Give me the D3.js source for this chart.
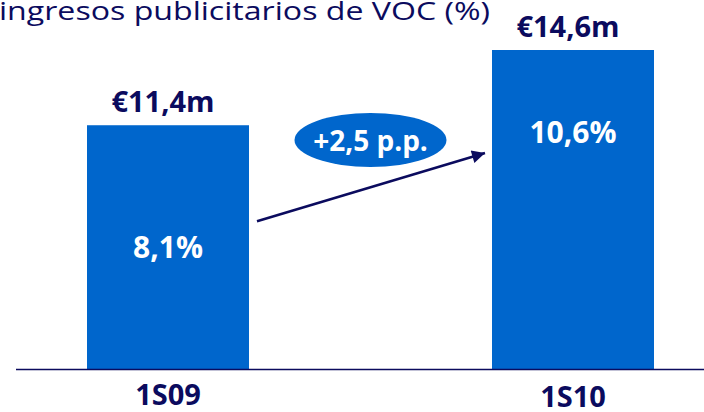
<html>
<head>
<meta charset="utf-8">
<script src="https://d3js.org/d3.v7.min.js"></script>
<style>
    body { margin: 0; background: #fff; }
    text { font-family: "Open Sans", "Noto Sans", sans-serif; }
</style>
</head>
<body>
<div id="chart"></div>
<script>
    // data
    var categories = ["1S09", "1S10"];
    var shareValues = [8.1, 10.6];
    var shareLabels = ["8,1%", "10,6%"];
    var revenueLabels = ["€11,4m", "€14,6m"];
    var changeLabel = "+2,5 p.p.";
    var titleText = "ingresos publicitarios de VOC (%)";

    var width = 704;
    var height = 412;
    var blue = "#0066cc";
    var navy = "#0b0b5e";

    var svg = d3.select("#chart").append("svg")
        .attr("width", width)
        .attr("height", height);

    var xs = d3.scaleBand()
        .domain(categories)
        .range([87, 654])
        .paddingInner(0.6)
        .paddingOuter(0);

    var ys = d3.scaleLinear()
        .domain([0, d3.max(shareValues)])
        .range([369, 50]);

    // title (cut off at the top-left like the original)
    svg.append("text")
        .attr("x", -1)
        .attr("y", 20)
        .attr("fill", navy)
        .style("font-size", "26px")
        .attr("textLength", 491)
        .attr("lengthAdjust", "spacingAndGlyphs")
        .text(titleText);

    // bars
    svg.selectAll("rect.bar")
        .data(shareValues)
        .enter().append("rect")
        .attr("class", "bar")
        .attr("x", function (d, i) { return xs(categories[i]); })
        .attr("y", function (d) { return ys(d); })
        .attr("width", xs.bandwidth())
        .attr("height", function (d) { return ys(0) - ys(d); })
        .attr("fill", blue);

    // baseline
    svg.append("line")
        .attr("x1", 16)
        .attr("x2", width)
        .attr("y1", ys(0) + 0.5)
        .attr("y2", ys(0) + 0.5)
        .attr("stroke", navy)
        .attr("stroke-width", 1.5);

    // category axis
    var xAxis = svg.append("g")
        .attr("transform", "translate(0," + ys(0) + ")")
        .call(d3.axisBottom(xs).tickSize(0));
    xAxis.select(".domain").remove();
    xAxis.selectAll("text")
        .attr("y", 0)
        .attr("dy", function (d, i) { return i == 0 ? 36 : 38; })
        .attr("fill", navy)
        .style("font-family", "'Open Sans', sans-serif")
        .style("font-size", "29px")
        .style("font-weight", "bold");

    // revenue labels above bars
    svg.selectAll("text.rev")
        .data(revenueLabels)
        .enter().append("text")
        .attr("class", "rev")
        .attr("x", function (d, i) { return xs(categories[i]) + xs.bandwidth() / 2 - 5; })
        .attr("y", function (d, i) { return ys(shareValues[i]) - 13; })
        .attr("text-anchor", "middle")
        .attr("fill", navy)
        .style("font-size", "29px")
        .style("font-weight", "bold")
        .text(function (d) { return d; });

    // share labels inside bars
    svg.selectAll("text.share")
        .data(shareLabels)
        .enter().append("text")
        .attr("class", "share")
        .attr("x", function (d, i) { return xs(categories[i]) + xs.bandwidth() / 2; })
        .attr("y", function (d, i) {
            var top = ys(shareValues[i]);
            return i == 0 ? (top + ys(0)) / 2 + 11 : top + 93;
        })
        .attr("text-anchor", "middle")
        .attr("fill", "#fff")
        .style("font-size", "30px")
        .style("font-weight", "bold")
        .text(function (d) { return d; });

    // arrow between bars
    svg.append("defs").append("marker")
        .attr("id", "head")
        .attr("viewBox", "0 0 10 10")
        .attr("refX", 10)
        .attr("refY", 5)
        .attr("markerWidth", 17)
        .attr("markerHeight", 13)
        .attr("markerUnits", "userSpaceOnUse")
        .attr("orient", "auto")
        .append("path")
        .attr("d", "M0,0 L10,5 L0,10 Z")
        .attr("fill", navy);

    var x0 = xs(categories[0]) + xs.bandwidth() + 8;
    var x1 = xs(categories[1]) - 7;
    svg.append("line")
        .attr("x1", x0)
        .attr("y1", ys(shareValues[0]) + 96)
        .attr("x2", x1)
        .attr("y2", ys(shareValues[1]) + 103)
        .attr("stroke", navy)
        .attr("stroke-width", 2.5)
        .attr("marker-end", "url(#head)");

    // change bubble
    var cx = (xs(categories[0]) + xs(categories[1]) + xs.bandwidth()) / 2;
    svg.append("ellipse")
        .attr("cx", cx)
        .attr("cy", 140)
        .attr("rx", 76)
        .attr("ry", 27)
        .attr("fill", blue);
    svg.append("text")
        .attr("x", cx)
        .attr("y", 151)
        .attr("text-anchor", "middle")
        .attr("fill", "#fff")
        .style("font-size", "28px")
        .style("font-weight", "bold")
        .text(changeLabel);
</script>
</body>
</html>
